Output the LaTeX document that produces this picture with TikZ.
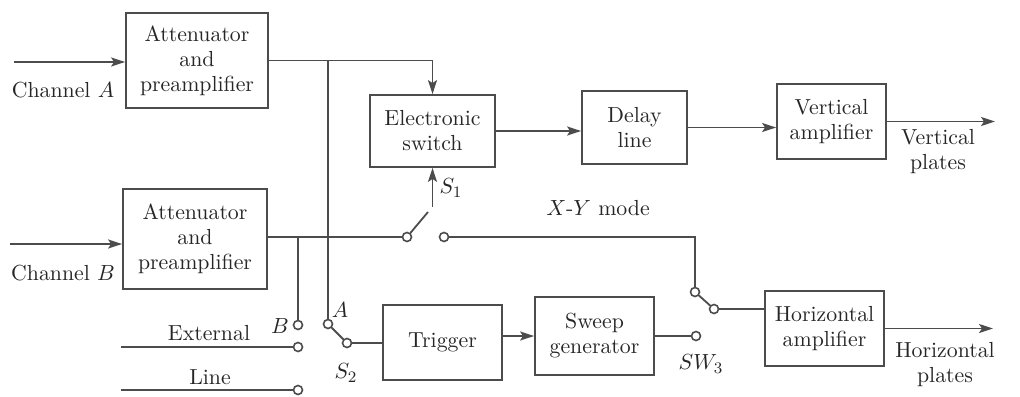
\documentclass[tikz,border=0pt]{standalone}
\usetikzlibrary{arrows.meta}
\begin{document}
\begin{tikzpicture}[x=0.5pt,y=-0.5pt,
  line width=0.9pt, draw=black!70,
  every node/.style={text=black!85, font=\fontsize{10.9}{12.5}\selectfont},
  blk/.style={draw=black!70, rectangle, align=center, inner sep=0pt},
  term/.style={draw=black!70, circle, fill=white, inner sep=0pt, minimum size=4.5pt, line width=0.8pt},
  lbl/.style={align=center, inner sep=0pt},
  arr/.style={-{Stealth[length=7pt,width=4.5pt,inset=1.5pt]}}]
\useasboundingbox (0,0) rectangle (1020,396);
% blocks
\node[blk, minimum width=71pt, minimum height=47.5pt] (A1) at (197,60.5) {Attenuator\\and\\preamplifier};
\node[blk, minimum width=72pt, minimum height=50pt] (B1) at (195,239) {Attenuator\\and\\preamplifier};
\node[blk, minimum width=62.5pt, minimum height=36pt] (ES) at (432.5,131) {Electronic\\switch};
\node[blk, minimum width=52.5pt, minimum height=36.5pt] (DL) at (634.5,127.5) {Delay\\line};
\node[blk, minimum width=54.5pt, minimum height=37.5pt] (VA) at (831.5,121.5) {Vertical\\amplifier};
\node[blk, minimum width=59.5pt, minimum height=37.5pt] (TR) at (442.5,342.5) {Trigger};
\node[blk, minimum width=59.5pt, minimum height=39pt] (SG) at (594.5,336) {Sweep\\generator};
\node[blk, minimum width=59.5pt, minimum height=37.5pt] (HA) at (824.5,328.5) {Horizontal\\amplifier};
% coordinates
\coordinate (chA) at (14,62);
\coordinate (chB) at (10,244);
\coordinate (jA) at (328,60.5);
\coordinate (jB) at (298,237);
\coordinate (s1t) at (428,212);
\coordinate (s1a) at (432.5,207);
\coordinate (vp) at (995,121.5);
\coordinate (hp) at (993,328.5);
\coordinate (extS) at (121,347);
\coordinate (lnS) at (121,390);
% input/output arrows
\draw[arr] (chA) -- (chA -| A1.west);
\draw[arr] (chB) -- (chB -| B1.west);
\draw[arr] (A1.east) -| (ES.north);
\draw[arr] (ES.east) -- (ES.east -| DL.west);
\draw[arr] (DL.east) -- (DL.east -| VA.west);
\draw[arr] (VA.east) -- (vp);
\draw[arr] (SG.west -| TR.east) -- (SG.west);
\draw[arr] (HA.east) -- (hp);
\draw[arr] (s1a) -- (s1a |- ES.south);
% switch terminals
\node[term] (s1L) at (407,237) {};
\node[term] (s1R) at (444,237) {};
\node[term] (s2A) at (328,324) {};
\node[term] (s2B) at (298,325) {};
\node[term] (s2C) at (347,343) {};
\node[term] (ext) at (298,347) {};
\node[term] (ln) at (298,390) {};
\node[term] (sw3U) at (695,292) {};
\node[term] (sw3L) at (696,336) {};
\node[term] (sw3C) at (714,309) {};
% wiring
\draw (B1.east |- s1L) -- (s1L);
\draw (s1L) -- (s1t);
\draw (s1R) -| (sw3U);
\draw (jA) -- (s2A);
\draw (jB) -- (s2B);
\draw (s2A) -- (s2C);
\draw (s2C) -- (s2C -| TR.west);
\draw (extS) -- (ext);
\draw (lnS) -- (ln);
\draw (SG.east |- sw3L) -- (sw3L);
\draw (sw3U) -- (sw3C);
\draw (sw3C) -- (sw3C -| HA.west);
% labels
\node[lbl] (lA) at (63,90) {Channel $A$};
\node[lbl] (lB) at (63,273) {Channel $B$};
\node[lbl] (lVP) at (938,152) {Vertical\\plates};
\node[lbl] (lHP) at (945,365) {Horizontal\\plates};
\node[lbl] (lXY) at (598,208) {$X$-$Y$ mode};
\node[lbl] (lS1) at (451,188) {$S_1$};
\node[lbl] (lExt) at (209,333) {External};
\node[lbl] (lLn) at (210,377) {Line};
\node[lbl] (lBt) at (280,326) {$B$};
\node[lbl] (lAt) at (340,310) {$A$};
\node[lbl] (lS2) at (346,373) {$S_2$};
\node[lbl] (lSW) at (701,364) {$SW_3$};
\end{tikzpicture}
\end{document}
